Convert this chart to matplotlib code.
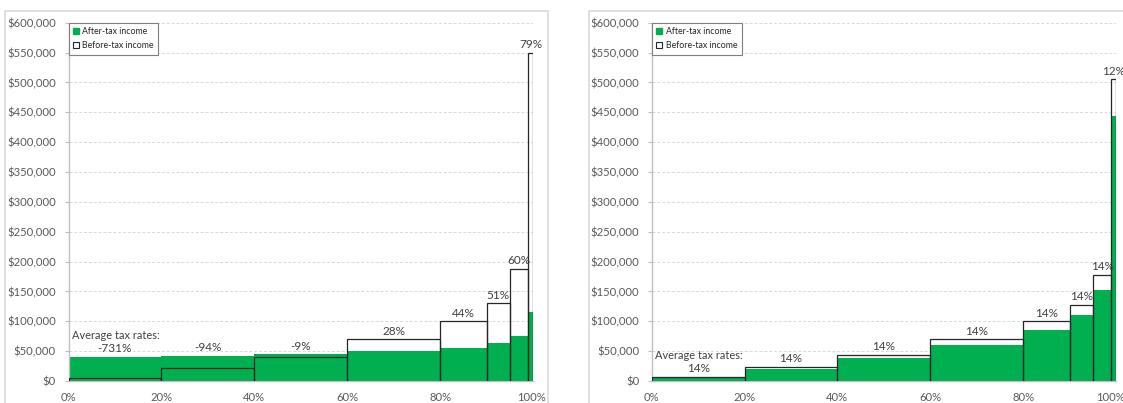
import matplotlib
matplotlib.use("Agg")
import matplotlib.pyplot as plt
import matplotlib.transforms as mtransforms
from matplotlib.patches import Patch, Rectangle
from matplotlib.ticker import FuncFormatter

# income group edges (percentile)
edges = [0, 20, 40, 60, 80, 90, 95, 99, 100]

# left chart
before_left = [4900, 22000, 41000, 70000, 100000, 130000, 188000, 550000]
after_left = [40700, 42700, 44700, 50400, 56000, 63700, 75200, 115500]
rates_left = ["-731%", "-94%", "-9%", "28%", "44%", "51%", "60%", "79%"]

# right chart
before_right = [7000, 24000, 44000, 70000, 100000, 128000, 178000, 505000]
after_right = [6000, 20600, 37800, 60200, 86000, 110000, 153000, 444400]
rates_right = ["14%", "14%", "14%", "14%", "14%", "14%", "14%", "12%"]

GREEN = "#00b050"
TXT = "#404040"
plt.rcParams["font.family"] = ["Lato", "DejaVu Sans"]

fig = plt.figure(figsize=(11.23, 4.03), dpi=100)
W, H = 1123, 403

# light chart-area frames like in the spreadsheet
for x0, x1 in [(5, 548), (589, 1130)]:
    fig.patches.append(Rectangle((x0 / W, -0.1), (x1 - x0) / W, 1.1 - 10.7 / H,
                                 transform=fig.transFigure, fill=False,
                                 edgecolor="#d9d9d9", lw=1.2))


def draw(ax, before, after, rates, last_shift):
    lefts = [e / 100 for e in edges[:-1]]
    widths = [(edges[i + 1] - edges[i]) / 100 for i in range(len(edges) - 1)]
    ax.bar(lefts, after, width=widths, align="edge", color=GREEN, lw=0, zorder=2)
    ax.bar(lefts, before, width=widths, align="edge", fill=False,
           edgecolor="#262626", lw=0.9, zorder=3)
    for i in range(len(rates)):
        top = max(before[i], after[i])
        ax.annotate(rates[i], (lefts[i] + widths[i] / 2, top), xytext=(0, 8),
                    textcoords="offset pixels", ha="center", va="center",
                    fontsize=8.5, color=TXT, zorder=4)
    top0 = max(before[0], after[0])
    ax.annotate("Average tax rates:", (0, top0), xytext=(3, 21),
                textcoords="offset pixels", ha="left", va="center",
                fontsize=7.9, color=TXT, zorder=4)

    ax.set_xlim(0, 1)
    ax.set_ylim(0, 600000)
    ax.set_yticks(range(0, 600001, 50000))
    ax.yaxis.set_major_formatter(FuncFormatter(lambda v, p: f"${v:,.0f}"))
    ax.set_xticks([0, 0.2, 0.4, 0.6, 0.8, 1.0])
    ax.xaxis.set_major_formatter(FuncFormatter(lambda v, p: f"{v * 100:.0f}%"))
    ax.grid(axis="y", color="#d9d9d9", lw=0.7, ls=(0, (3, 2)), zorder=0)
    ax.set_axisbelow(True)
    for s in ["top", "right"]:
        ax.spines[s].set_visible(False)
    for s in ["left", "bottom"]:
        ax.spines[s].set_color("#bfbfbf")
        ax.spines[s].set_linewidth(1.0)
    ax.tick_params(axis="y", length=3, width=0.8, color="#bfbfbf", pad=6,
                   labelsize=8.1, labelcolor="#595959")
    ax.tick_params(axis="x", length=0, pad=8, labelsize=8.1, labelcolor="#595959")
    # nudge the 100% label so it stays inside the picture
    lab = ax.get_xticklabels()[-1]
    lab.set_transform(lab.get_transform() + mtransforms.ScaledTranslation(
        last_shift / 100, 0, fig.dpi_scale_trans))

    handles = [Patch(facecolor=GREEN, edgecolor=GREEN, label="After-tax income"),
               Patch(facecolor="white", edgecolor="#262626", lw=0.8,
                     label="Before-tax income")]
    leg = ax.legend(handles=handles, loc="upper left", bbox_to_anchor=(0, 1),
                    borderaxespad=0, fontsize=6.3, handlelength=0.7,
                    handleheight=0.7, handletextpad=0.4, labelspacing=0.6,
                    borderpad=0.5, fancybox=False, framealpha=1)
    leg.get_frame().set_edgecolor("#7f7f7f")
    leg.get_frame().set_linewidth(0.8)
    for t in leg.get_texts():
        t.set_color("#262626")


ax1 = fig.add_axes([68.5 / W, 22 / H, 464.5 / W, 358.3 / H])
draw(ax1, before_left, after_left, rates_left, -2)
ax2 = fig.add_axes([651.7 / W, 22 / H, 464.3 / W, 358.3 / H])
draw(ax2, before_right, after_right, rates_right, -6)

fig.savefig("out.png", dpi=100)
